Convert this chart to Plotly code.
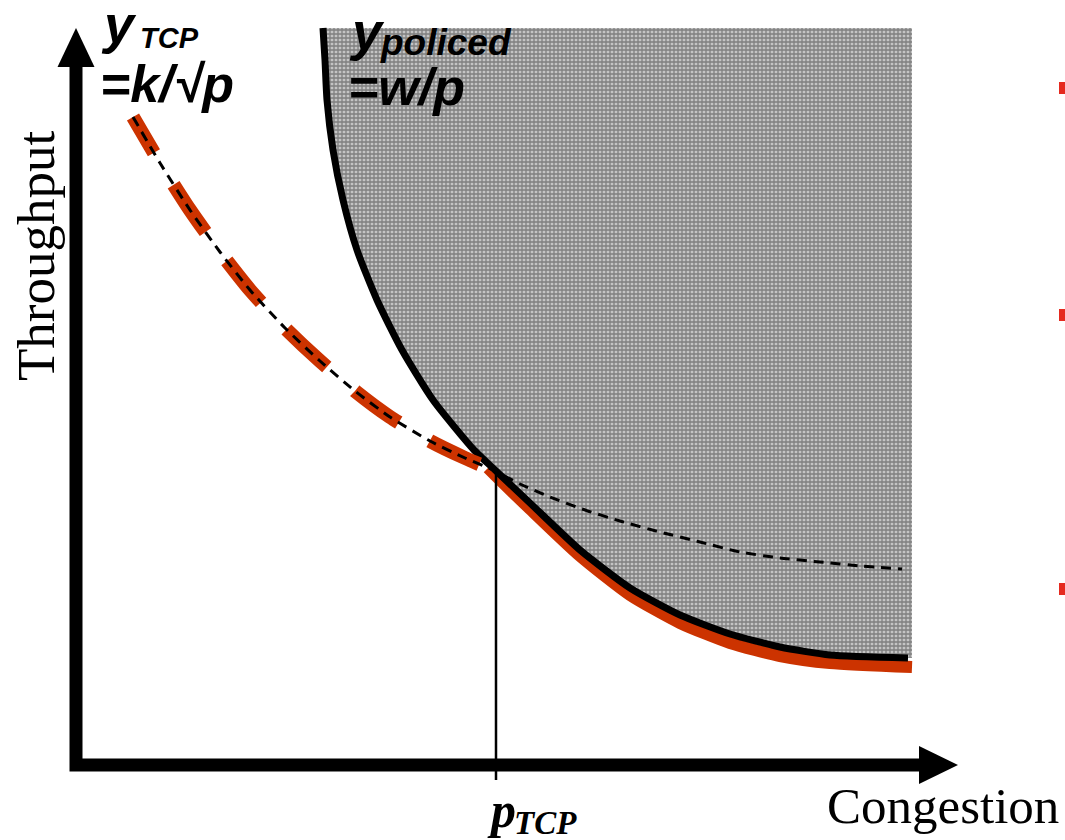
import plotly.graph_objects as go

# ---- data (schematic units: congestion p, throughput y) ----
tcp_p = [0.57, 0.84, 1.14, 1.44, 1.74, 2.09, 2.44, 2.79, 3.14, 3.54, 3.89, 4.17,
         4.44, 4.74, 5.06, 5.44, 5.84, 6.24, 6.64, 7.04, 7.44, 7.84, 8.26]
tcp_y = [6.48, 6.02, 5.55, 5.13, 4.75, 4.37, 4.04, 3.74, 3.48, 3.24, 3.07, 2.95,
         2.81, 2.68, 2.56, 2.44, 2.33, 2.23, 2.13, 2.07, 2.03, 1.99, 1.96]
n_tcp_red = 12  # red dashed part follows TCP curve up to the crossing

pol_p = [2.47, 2.49, 2.51, 2.57, 2.67, 2.81, 3.01, 3.26, 3.57, 3.98, 4.19,
         4.54, 5.04, 5.54, 6.04, 6.54, 7.04, 7.54, 8.32]
pol_y = [7.37, 7.05, 6.65, 6.15, 5.65, 5.15, 4.65, 4.15, 3.65, 3.15, 2.95,
         2.62, 2.15, 1.77, 1.50, 1.31, 1.18, 1.10, 1.07]

red_p = [4.12, 4.19, 4.54, 5.04, 5.54, 6.04, 6.54, 7.04, 7.54, 8.36]
red_y = [2.97, 2.90, 2.56, 2.09, 1.70, 1.42, 1.22, 1.09, 1.02, 0.98]

region_right = 8.36
region_top = 7.37
p_tcp = 4.20

edge_mark_y = [6.77, 4.50, 1.76]

x_range = [-0.76, 9.89]
y_range = [-0.75, 7.65]
x_arrow_tip, x_arrow_base = 8.82, 8.43
y_arrow_tip, y_arrow_base = 7.37, 6.98

W, H = 1065, 840
RED = "#cc3300"
RED_DASHES = "41px,38px,57px,36px,54px,37px,55px,37px,54px,36px,55px,20px,40px"

fig = go.Figure()

# shaded "policed" region
fig.add_trace(go.Scatter(
    x=pol_p + [region_right, region_right, pol_p[0]],
    y=pol_y + [pol_y[-1], region_top, region_top],
    mode="lines", line=dict(width=0), fill="toself",
    fillcolor="#9c9c9c",
    fillpattern=dict(shape="+", fgcolor="#3a3a3a", bgcolor="#c4c4c4", size=4, solidity=0.55),
    hoverinfo="skip"))

# red solid (policed part)
fig.add_trace(go.Scatter(x=red_p, y=red_y, mode="lines",
                         line=dict(color=RED, width=12, shape="spline", smoothing=0.6), hoverinfo="skip"))
# policed curve
fig.add_trace(go.Scatter(x=pol_p, y=pol_y, mode="lines",
                         line=dict(color="black", width=7, shape="spline", smoothing=0.6), hoverinfo="skip"))
# red dashed (TCP part)
fig.add_trace(go.Scatter(x=tcp_p[:n_tcp_red], y=tcp_y[:n_tcp_red], mode="lines",
                         line=dict(color=RED, width=14, dash=RED_DASHES, shape="spline", smoothing=0.6),
                         hoverinfo="skip"))
# TCP thin dashed curve
fig.add_trace(go.Scatter(x=tcp_p, y=tcp_y, mode="lines",
                         line=dict(color="black", width=3, dash="10px,7px", shape="spline", smoothing=0.6),
                         hoverinfo="skip"))
# vertical line at p_TCP
fig.add_trace(go.Scatter(x=[p_tcp, p_tcp], y=[tcp_y[n_tcp_red - 1], -0.15], mode="lines",
                         line=dict(color="black", width=2.5), hoverinfo="skip"))

# axes
fig.add_trace(go.Scatter(x=[0, 0, x_arrow_base], y=[y_arrow_base, 0, 0], mode="lines",
                         line=dict(color="black", width=13), hoverinfo="skip"))
fig.add_trace(go.Scatter(x=[-0.185, 0.185, 0, -0.185], y=[y_arrow_base, y_arrow_base, y_arrow_tip, y_arrow_base],
                         mode="lines", fill="toself", fillcolor="black", line=dict(width=0, color="black"),
                         hoverinfo="skip"))
fig.add_trace(go.Scatter(x=[x_arrow_base, x_arrow_base, x_arrow_tip, x_arrow_base], y=[0.19, -0.19, 0, 0.19],
                         mode="lines", fill="toself", fillcolor="black", line=dict(width=0, color="black"),
                         hoverinfo="skip"))

# red marks at right edge
fig.add_trace(go.Scatter(x=[x_range[1]] * 3, y=edge_mark_y, mode="markers",
                         marker=dict(symbol="square", size=12, color="#e52a1f", line=dict(width=0)),
                         hoverinfo="skip"))


def ann(text, px, py, size, family, xanchor="left", bold=True, italic=True, angle=0):
    fig.add_annotation(
        text=text, x=px / W, y=1 - py / H, xref="paper", yref="paper",
        xanchor=xanchor, yanchor="middle", showarrow=False, textangle=angle,
        font=dict(size=size, family=family, color="black",
                  weight="bold" if bold else "normal", style="italic" if italic else "normal"))


SANS = "Liberation Sans, Arial, sans-serif"
SERIF = "Liberation Serif, Times New Roman, serif"
ann("y", 99, 24, 54, SANS)
ann("TCP", 138, 38, 29, SANS)
ann("=k/√p", 98, 84, 52, SANS)
ann("y", 347, 31, 54, SANS)
ann("policed", 378, 42, 37, SANS)
ann("=w/p", 346, 87, 52, SANS)
ann("Throughput", 36, 256, 53, SERIF, xanchor="center", bold=False, italic=False, angle=-90)
ann("Congestion", 1061, 806, 51, SERIF, xanchor="right", bold=False, italic=False)
ann("p", 485, 810, 50, SERIF)
ann("TCP", 512, 823, 33, SERIF)

fig.update_layout(
    width=W, height=H, margin=dict(l=0, r=0, t=0, b=0),
    paper_bgcolor="white", plot_bgcolor="white", showlegend=False,
    xaxis=dict(range=x_range, visible=False, fixedrange=True),
    yaxis=dict(range=y_range, visible=False, fixedrange=True),
)

fig.write_html("out.html", config={"displayModeBar": False},
               post_script="document.body.style.margin='0px';document.body.style.overflow='hidden';")
